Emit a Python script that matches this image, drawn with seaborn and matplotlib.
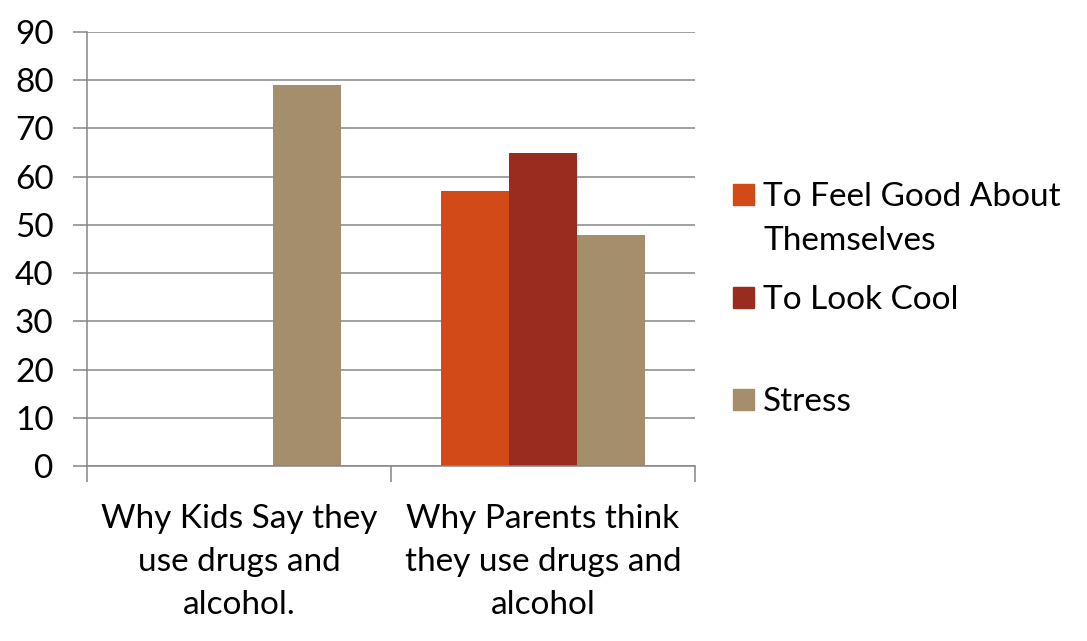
import matplotlib
matplotlib.use("Agg")
import matplotlib.pyplot as plt
from matplotlib.patches import Rectangle
import seaborn as sns
import pandas as pd

categories = ["Why Kids Say they use drugs and alcohol.",
              "Why Parents think they use drugs and alcohol"]
category_labels = ["Why Kids Say they\nuse drugs and\nalcohol.",
                   "Why Parents think\nthey use drugs and\nalcohol"]
series = ["To Feel Good About Themselves", "To Look Cool", "Stress"]
series_labels = ["To Feel Good About\nThemselves", "To Look Cool", "Stress"]
feel_good = [0, 57]
look_cool = [0, 65]
stress = [79, 48]
colors = ["#D24A18", "#9A2C1F", "#A48E6B"]
y_ticks = [0, 10, 20, 30, 40, 50, 60, 70, 80, 90]

rows = []
for s, vals in zip(series, [feel_good, look_cool, stress]):
    for c, v in zip(categories, vals):
        rows.append({"category": c, "series": s, "value": v})
df = pd.DataFrame(rows)

sns.set_theme(style="white")
plt.rcParams["font.family"] = ["Lato", "DejaVu Sans"]

FS = 24
fig = plt.figure(figsize=(10.87, 6.41), dpi=100)
ax = fig.add_axes([87/1087, 1 - 466/641, (695-87)/1087, (466-32)/641])

sns.barplot(data=df, x="category", y="value", hue="series", order=categories,
            hue_order=series, palette=colors, width=0.67, saturation=1,
            errorbar=None, ax=ax, legend=False, linewidth=0)

grid_c = "#868686"
ax.set_ylim(0, 90)
ax.set_xlim(-0.5, 1.5)
ax.set_yticks(y_ticks)
ax.set_yticklabels([str(t) for t in y_ticks], fontsize=FS, color="black")
ax.yaxis.grid(True, color=grid_c, linewidth=1.1)
ax.set_axisbelow(True)
for sp in ["top", "right"]:
    ax.spines[sp].set_visible(False)
for sp in ["left", "bottom"]:
    ax.spines[sp].set_color(grid_c)
    ax.spines[sp].set_linewidth(1.1)
ax.tick_params(axis="y", which="major", left=True, length=10, width=1.1,
               color=grid_c, pad=14)

ax.set_xticks([-0.5, 0.5, 1.5])
ax.set_xticklabels([])
ax.tick_params(axis="x", which="major", bottom=True, length=11.5, width=1.1,
               color=grid_c)
ax.set_xticks([0, 1], minor=True)
ax.set_xticklabels(category_labels, minor=True, fontsize=FS, linespacing=1.55,
                   color="black")
ax.tick_params(axis="x", which="minor", length=0, pad=27)
ax.set_xlabel("")
ax.set_ylabel("")

# legend
fw, fh = 1087, 641
ys = [195, 298, 400]
for lab, col, yc in zip(series_labels, colors, ys):
    fig.patches.append(Rectangle((733/fw, 1 - (yc + 10)/fh), 21/fw, 21/fh,
                                 transform=fig.transFigure, color=col))
    fig.text(763/fw, 1 - (yc - 13)/fh, lab, fontsize=FS, va="top", ha="left",
             linespacing=1.6, color="black")

fig.savefig("out.png", dpi=100, facecolor="white")
